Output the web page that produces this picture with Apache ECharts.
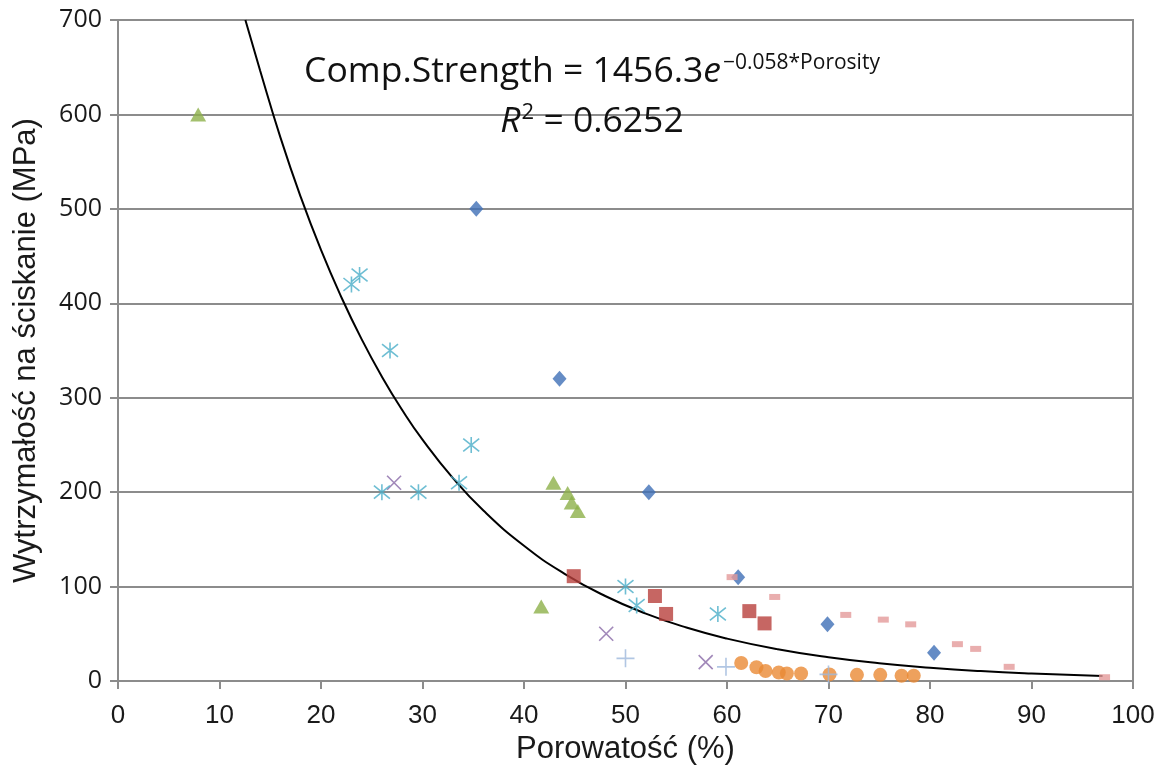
<!DOCTYPE html>
<html>
<head>
<meta charset="utf-8">
<script src="https://cdn.jsdelivr.net/npm/echarts@6/dist/echarts.min.js"></script>
<style>html,body{margin:0;padding:0;background:#fff;}#c{width:1163px;height:765px;}</style>
</head>
<body>
<div id="c"></div>
<script>
// Data (porosity %, compressive strength MPa)
const blueDiamonds = [[35.3,500],[43.5,320],[52.3,200],[61.1,110],[69.9,60],[80.4,30]];
const redSquares = [[44.9,111],[52.9,90],[54.0,71],[62.2,74],[63.7,61]];
const greenTriangles = [[7.9,600],[42.9,210],[44.3,199],[44.7,189],[45.3,180],[41.7,79]];
const purpleCrosses = [[27.2,210],[48.1,50],[57.9,20]];
const cyanStars = [[23.0,420],[23.8,430],[26.8,350],[34.8,250],[26.0,200],[29.6,200],[33.6,210],[50.0,100],[51.1,80],[59.1,71]];
const pinkDashes = [[60.5,110],[64.7,89],[71.7,70],[75.4,65],[78.1,60],[82.7,39],[84.5,34],[87.8,15],[97.2,4]];
const orangeCircles = [[61.4,19],[62.9,14.5],[63.8,10.6],[65.1,9],[65.9,8],[67.3,8],[70.1,7],[72.8,6.5],[75.1,6.5],[77.2,5.5],[78.4,5.5]];
const lightBluePlus = [[50.0,24],[59.9,15],[70.0,7]];
// Trend line
const trendX = [12.55,14,16,18,20,22,24,26,28,30,33,36,40,44,48,52,56,60,65,70,75,80,85,90,97];
const trendY = [700,646.6,575.7,512.6,456.5,406.6,362.0,322.3,287.0,255.6,214.8,180.5,143.2,113.5,90.0,71.4,56.6,44.9,33.6,25.1,18.8,14.1,10.5,7.9,5.2];

const xTitle = 'Porowatość (%)';
const yTitle = 'Wytrzymałość na ściskanie (MPa)';

const chart = echarts.init(document.getElementById('c'), null, {renderer:'canvas'});
const gray = '#8c8c8c';
const starPath = 'path://M1,1 L9,9 M9,1 L1,9 M5,0 L5,10';
const xPath = 'path://M0,0 L10,10 M10,0 L0,10';
const plusPath = 'path://M5,0 L5,10 M0,5 L10,5';

function scatter(name, data, symbol, size, color, stroke){
  const s = {name, type:'scatter', data, symbol, symbolSize:size, z:3,
    itemStyle: stroke ? {color:'rgba(0,0,0,0)', borderColor:color, borderWidth:1.6} : {color}};
  return s;
}

chart.setOption({
  animation:false,
  grid:{left:118, right:30, top:20, bottom:84, outerBoundsMode:'none', containLabel:false,
    show:true, borderColor:gray, borderWidth:2, backgroundColor:'transparent'},
  xAxis:{type:'value', min:0, max:100, interval:10,
    name:xTitle, nameLocation:'middle', nameGap:52,
    nameTextStyle:{fontFamily:'Liberation Sans', fontSize:31, color:'#1a1a1a'},
    axisLine:{show:true, lineStyle:{color:gray, width:2}},
    axisTick:{show:true, length:8, lineStyle:{color:gray, width:2}},
    axisLabel:{fontFamily:'Liberation Sans', fontSize:26, color:'#1a1a1a', margin:22},
    splitLine:{show:false}},
  yAxis:{type:'value', min:0, max:700, interval:100,
    name:yTitle, nameLocation:'middle', nameGap:76, nameRotate:90,
    nameTextStyle:{fontFamily:'Liberation Sans', fontSize:31, color:'#1a1a1a'},
    axisLine:{show:true, lineStyle:{color:gray, width:2}},
    axisTick:{show:true, length:8, lineStyle:{color:gray, width:2}},
    axisLabel:{fontFamily:'Open Sans', fontSize:25, color:'#1a1a1a', margin:16},
    splitLine:{show:true, lineStyle:{color:gray, width:2}}},
  graphic:[{
    type:'text', x:592, y:40, z:10,
    style:{
      text:'{n|Comp.Strength = 1456.3}{e|e}{s|−0.058*Porosity}\n{r|R}{s2|2}{n| = 0.6252}',
      align:'center', verticalAlign:'top',
      fill:'#111',
      rich:{
        n:{fontFamily:'Open Sans', fontSize:35.5, lineHeight:50, fill:'#111', verticalAlign:'bottom'},
        e:{fontFamily:'Open Sans', fontStyle:'italic', fontSize:35.5, lineHeight:50, fill:'#111', verticalAlign:'bottom'},
        r:{fontFamily:'Open Sans', fontStyle:'italic', fontSize:35.5, lineHeight:50, fill:'#111', verticalAlign:'bottom'},
        s:{fontFamily:'Open Sans', fontSize:21, lineHeight:50, fill:'#111', verticalAlign:'top', padding:[13,0,0,2]},
        s2:{fontFamily:'Open Sans', fontSize:22, lineHeight:50, fill:'#111', verticalAlign:'top', padding:[12,0,0,1]}
      }
    }
  }],
  series:[
    {name:'trend', type:'line', data:trendX.map((x,i)=>[x,trendY[i]]), smooth:true, showSymbol:false, symbol:'none',
      lineStyle:{color:'#000', width:2}, z:2, clip:true, silent:true},
    scatter('Blue', blueDiamonds, 'diamond', [14,16], '#3f6fb6'),
    scatter('Red', redSquares, 'rect', 14, '#b8403c'),
    scatter('Green', greenTriangles, 'triangle', [16,14], '#8db04a'),
    scatter('Purple', purpleCrosses, xPath, 14, '#8a6aa8', true),
    scatter('Cyan', cyanStars, starPath, 16, '#4aaec8', true),
    scatter('Orange', orangeCircles, 'circle', 14, '#ea8a35'),
    scatter('LightBlue', lightBluePlus, plusPath, 18, '#9db8dc', true),
    scatter('Pink', pinkDashes, 'rect', [11,6], '#e39a9a')
  ]
});
</script>
</body>
</html>
